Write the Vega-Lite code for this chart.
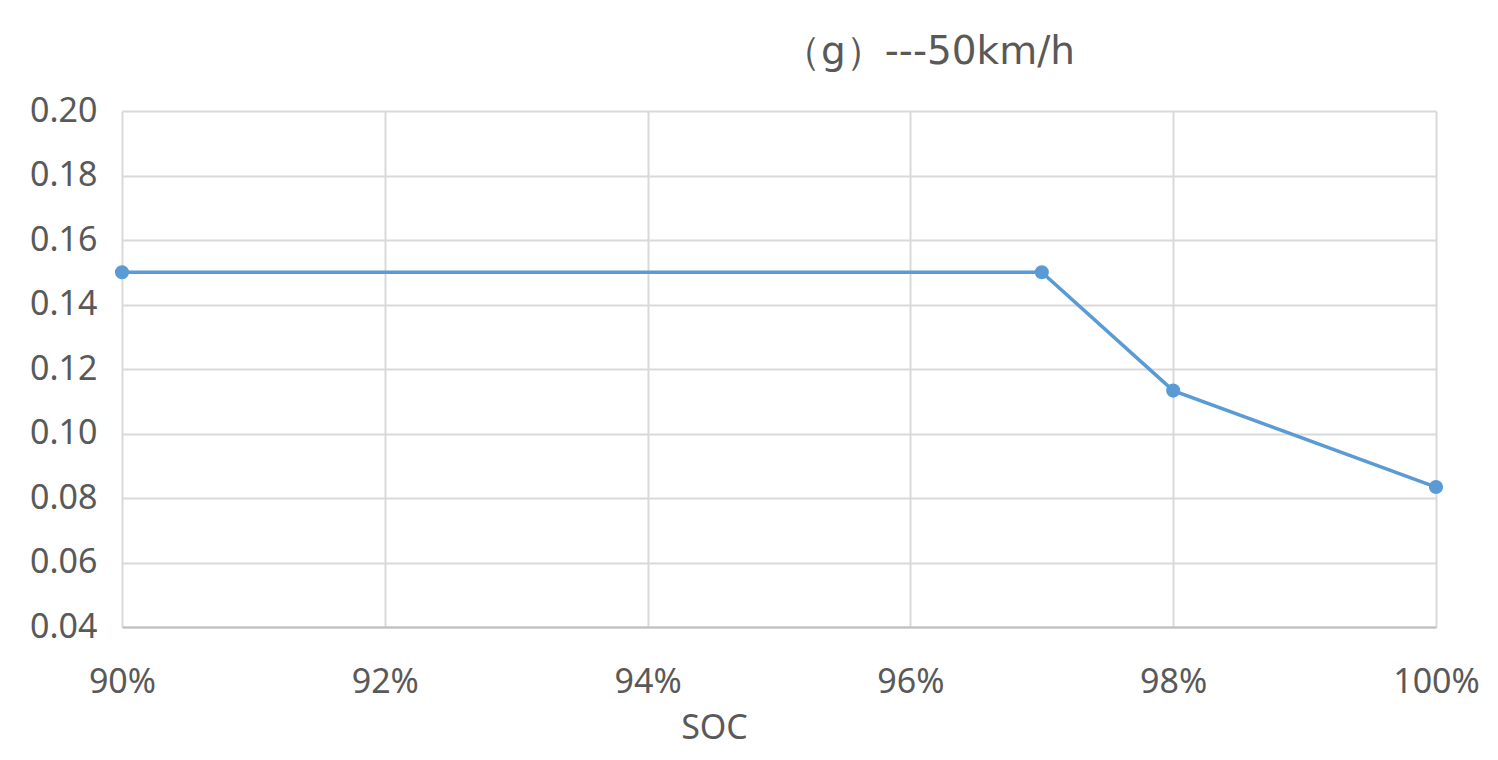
{
  "$schema": "https://vega.github.io/schema/vega-lite/v6.json",
  "width": 1314,
  "height": 516,
  "autosize": "none",
  "padding": {"left": 122, "top": 111, "right": 62, "bottom": 133},
  "background": "white",
  "title": {
    "text": "（g）---50km/h",
    "anchor": "start",
    "frame": "group",
    "dx": 660,
    "offset": 22,
    "fontSize": 39,
    "font": "DejaVu Sans",
    "fontWeight": "normal",
    "color": "#595959"
  },
  "data": {
    "values": [
      {"soc": 0.90, "value": 0.15},
      {"soc": 0.97, "value": 0.15},
      {"soc": 0.98, "value": 0.1133},
      {"soc": 1.00, "value": 0.0834}
    ]
  },
  "mark": {
    "type": "line",
    "color": "#5b9bd5",
    "strokeWidth": 3.5,
    "point": {"filled": true, "size": 200, "color": "#5b9bd5", "opacity": 1}
  },
  "encoding": {
    "x": {
      "field": "soc",
      "type": "quantitative",
      "scale": {"domain": [0.9, 1.0], "nice": false, "zero": false},
      "axis": {
        "title": "SOC",
        "format": ".0%",
        "values": [0.9, 0.92, 0.94, 0.96, 0.98, 1.0],
        "grid": true,
        "ticks": false,
        "labelPadding": 38,
        "labelFlush": false,
        "titleX": 592,
        "titleY": 111,
        "titleBaseline": "alphabetic"
      }
    },
    "y": {
      "field": "value",
      "type": "quantitative",
      "scale": {"domain": [0.04, 0.2], "nice": false, "zero": false},
      "axis": {
        "title": null,
        "format": ".2f",
        "values": [0.04, 0.06, 0.08, 0.1, 0.12, 0.14, 0.16, 0.18, 0.2],
        "grid": true,
        "ticks": false,
        "domain": false,
        "labelPadding": 25
      }
    }
  },
  "config": {
    "view": {"stroke": null},
    "axis": {
      "labelFont": "Noto Sans",
      "labelFontSize": 34,
      "labelColor": "#595959",
      "titleFont": "Noto Sans",
      "titleFontSize": 34,
      "titleFontWeight": "normal",
      "titleColor": "#595959",
      "gridColor": "#d9d9d9",
      "gridWidth": 2,
      "domainColor": "#bfbfbf",
      "domainWidth": 2
    }
  }
}
